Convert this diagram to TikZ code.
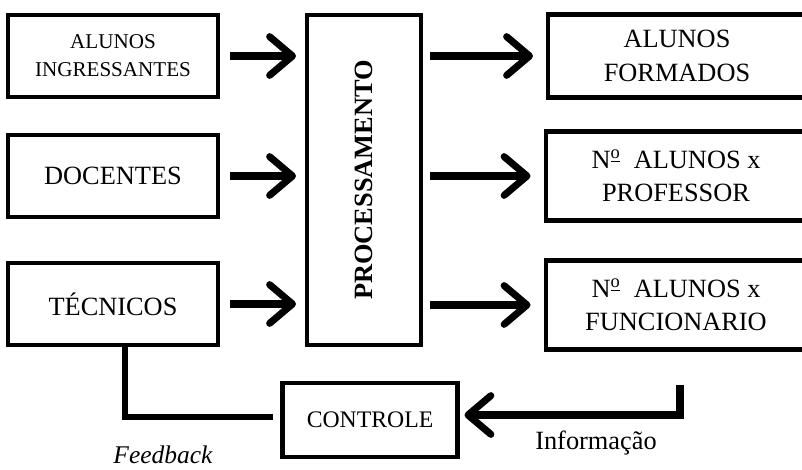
\documentclass[tikz,border=0pt]{standalone}
\usepackage{fontspec}
\setmainfont{Liberation Serif}
\usepackage{tikz}
\usetikzlibrary{arrows.meta, calc, positioning}

\begin{document}
\begin{tikzpicture}[x=0.02cm, y=-0.02cm,
    box/.style={draw, line width=2.3pt, align=center, font=\fontsize{15}{19}\selectfont, inner sep=0pt},
    flow/.style={line width=4pt, -{Straight Barb[length=13pt, width=22pt, round]}},
    fb/.style={line width=3.4pt}]
                    \useasboundingbox (0, 0) rectangle (802, 470);
                    \clip (0, 0) rectangle (802, 470);

                    \node[box, minimum width=4.2cm, minimum height=1.64cm, font=\fontsize{12}{16}\selectfont] (ingr) at (113, 56) {ALUNOS\\INGRESSANTES};
                    \node[box, minimum width=4.2cm, minimum height=1.64cm] (doc) at (113, 176) {DOCENTES};
                    \node[box, minimum width=4.2cm, minimum height=1.64cm] (tec) at (113, 304) {TÉCNICOS};
                    \node[box, minimum width=2.28cm, minimum height=6.6cm] (proc) at (364, 180) {};
                    \node[rotate=90, font=\fontsize{15}{19}\selectfont\bfseries] (proclab) at (proc.center) {PROCESSAMENTO};
                    \node[box, minimum width=5.16cm, minimum height=1.66cm] (form) at (677, 56) {ALUNOS\\FORMADOS};
                    \node[box, minimum width=5.22cm, minimum height=1.78cm] (prof) at (676, 176) {N\textsuperscript{\underline{o}}\ \ ALUNOS x\\PROFESSOR};
                    \node[box, minimum width=5.22cm, minimum height=1.78cm] (func) at (676, 305) {N\textsuperscript{\underline{o}}\ \ ALUNOS x\\FUNCIONARIO};
                    \node[box, minimum width=3.5cm, minimum height=1.48cm, font=\fontsize{13.5}{16}\selectfont] (ctrl) at (370, 420) {CONTROLE};
                    \coordinate (info) at (680, 385);

                    \node[font=\fontsize{14.5}{17}\selectfont\itshape] (fblab) at (163, 455) {Feedback};
                    \node[font=\fontsize{15}{18}\selectfont] (infolab) at (596, 443) {Informação};

                    \draw[flow, shorten <=0.2cm, shorten >=0.18cm]
                    (ingr.east) -- (ingr.east -| proc.west);
                    \draw[flow, shorten <=0.2cm, shorten >=0.18cm]
                    (doc.east) -- (doc.east -| proc.west);
                    \draw[flow, shorten <=0.2cm, shorten >=0.18cm]
                    (tec.east) -- (tec.east -| proc.west);
                    \draw[flow, shorten <=0.14cm, shorten >=0.26cm]
                    (form.west -| proc.east) -- (form.west);
                    \draw[flow, shorten <=0.14cm, shorten >=0.26cm]
                    (prof.west -| proc.east) -- (prof.west);
                    \draw[flow, shorten <=0.14cm, shorten >=0.26cm]
                    (func.west -| proc.east) -- (func.west);

                    \draw[fb, shorten >=0.16cm]
                    ([xshift=0.24cm]tec.south) |- ([yshift=0.06cm]ctrl.west);
                    \draw[flow, shorten >=0.1cm]
                    (info) |- ([yshift=0.1cm]ctrl.east);
                \end{tikzpicture}
\end{document}
